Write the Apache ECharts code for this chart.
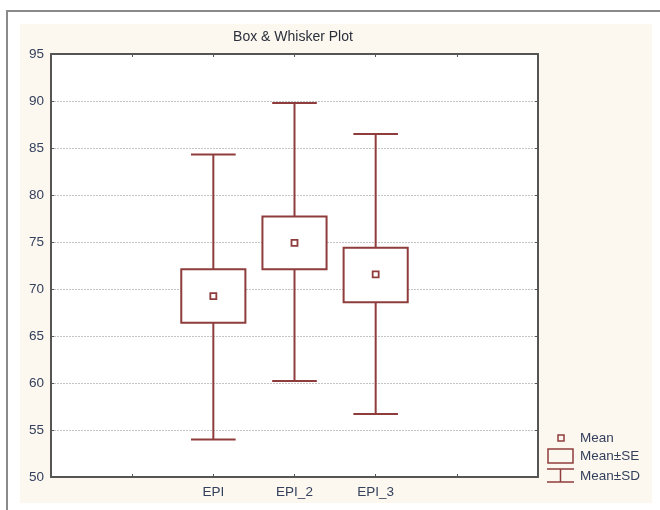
<!DOCTYPE html>
<html>
<head>
<meta charset="utf-8">
<script src="https://cdn.jsdelivr.net/npm/echarts@6/dist/echarts.min.js"></script>
<style>html,body{margin:0;padding:0;background:#fff}#c{width:660px;height:510px}</style>
</head>
<body>
<div id="c"></div>
<script>
const categories = ['EPI', 'EPI_2', 'EPI_3'];
const means  = [69.25, 74.9, 71.55];
const seLow  = [66.4, 72.1, 68.6];
const seHigh = [72.1, 77.7, 74.4];
const sdLow  = [54.0, 60.2, 56.7];
const sdHigh = [84.3, 89.8, 86.5];
const yTicks = [50, 55, 60, 65, 70, 75, 80, 85, 90, 95];

const axisSlots = ['', '', ...categories, '', ''];
const COLOR = '#8f3c3c';
const TXT = '#34405c';
const FONT = 'Liberation Sans, Arial';

const data = categories.map((c, i) => [c, means[i], seLow[i], seHigh[i], sdLow[i], sdHigh[i]]);

function renderItem(params, api) {
  const x = api.value(0);
  const m = api.coord([x, api.value(1)]);
  const sl = api.coord([x, api.value(2)]);
  const sh = api.coord([x, api.value(3)]);
  const dl = api.coord([x, api.value(4)]);
  const dh = api.coord([x, api.value(5)]);
  const band = api.size([1, 0])[0];
  const bw = band * 0.79, cw = band * 0.55, cx = m[0];
  const st = { stroke: COLOR, lineWidth: 2, fill: null };
  return {
    type: 'group',
    children: [
      { type: 'line', shape: { x1: cx, y1: dh[1], x2: cx, y2: sh[1] }, style: st },
      { type: 'line', shape: { x1: cx, y1: sl[1], x2: cx, y2: dl[1] }, style: st },
      { type: 'line', shape: { x1: cx - cw / 2, y1: dh[1], x2: cx + cw / 2, y2: dh[1] }, style: st },
      { type: 'line', shape: { x1: cx - cw / 2, y1: dl[1], x2: cx + cw / 2, y2: dl[1] }, style: st },
      { type: 'rect', shape: { x: cx - bw / 2, y: sh[1], width: bw, height: sl[1] - sh[1] }, style: { stroke: COLOR, lineWidth: 2, fill: '#fff' } },
      { type: 'rect', shape: { x: cx - 3, y: m[1] - 3, width: 6, height: 6 }, style: { stroke: COLOR, lineWidth: 1.8, fill: '#fff' } }
    ]
  };
}

const chart = echarts.init(document.getElementById('c'), null, { renderer: 'canvas' });
chart.setOption({
  backgroundColor: '#fff',
  animation: false,
  title: {
    text: 'Box & Whisker Plot', left: 288, top: 25, textAlign: 'center',
    textStyle: { fontFamily: FONT, fontSize: 14, fontWeight: 'normal', color: '#2a2f3a' }
  },
  graphic: [
    { type: 'rect', z: -10, shape: { x: 20, y: 24, width: 632, height: 479 }, style: { fill: '#fcf8f0' } },
    { type: 'polyline', z: -5, shape: { points: [[7, 510], [7, 11], [660, 11]] }, style: { stroke: '#8a8a8a', lineWidth: 2, fill: null } },
    { type: 'rect', shape: { x: 558, y: 435, width: 6, height: 6 }, style: { stroke: COLOR, lineWidth: 1.5, fill: '#fcf8f0' } },
    { type: 'text', x: 580, y: 438, style: { text: 'Mean', fill: TXT, font: '13.5px ' + FONT, verticalAlign: 'middle' } },
    { type: 'rect', shape: { x: 548, y: 449, width: 25, height: 14 }, style: { stroke: COLOR, lineWidth: 1.5, fill: '#fcf8f0' } },
    { type: 'text', x: 580, y: 456, style: { text: 'Mean±SE', fill: TXT, font: '13.5px ' + FONT, verticalAlign: 'middle' } },
    { type: 'line', shape: { x1: 547, y1: 469, x2: 574, y2: 469 }, style: { stroke: COLOR, lineWidth: 1.5 } },
    { type: 'line', shape: { x1: 560.5, y1: 469, x2: 560.5, y2: 482 }, style: { stroke: COLOR, lineWidth: 1.5 } },
    { type: 'line', shape: { x1: 547, y1: 482, x2: 574, y2: 482 }, style: { stroke: COLOR, lineWidth: 1.5 } },
    { type: 'text', x: 580, y: 476, style: { text: 'Mean±SD', fill: TXT, font: '13.5px ' + FONT, verticalAlign: 'middle' } }
  ],
  grid: { left: 51, top: 54, right: 122, bottom: 33, show: true, backgroundColor: '#fff', borderWidth: 0 },
  xAxis: [
    {
      type: 'category', data: axisSlots, boundaryGap: false, position: 'bottom',
      axisLine: { lineStyle: { color: '#555', width: 2 } },
      axisTick: { inside: true, length: 3, lineStyle: { color: '#555' } },
      axisLabel: { color: TXT, fontFamily: FONT, fontSize: 13.5, margin: 8, interval: 0 },
      splitLine: { show: false }
    },
    {
      type: 'category', data: axisSlots, boundaryGap: false, position: 'top',
      axisLine: { lineStyle: { color: '#555', width: 2 } },
      axisTick: { inside: true, length: 3, lineStyle: { color: '#555' } },
      axisLabel: { show: false }, splitLine: { show: false }
    }
  ],
  yAxis: [
    {
      type: 'value', min: yTicks[0], max: yTicks[yTicks.length - 1], interval: 5, position: 'left',
      axisLine: { show: true, lineStyle: { color: '#555', width: 2 } },
      axisTick: { show: true, inside: true, length: 3, lineStyle: { color: '#555' } },
      axisLabel: { color: TXT, fontFamily: FONT, fontSize: 13.5, margin: 7 },
      splitLine: { show: true, lineStyle: { color: '#c4c4c4', type: [2, 1], width: 1 } }
    },
    {
      type: 'value', min: yTicks[0], max: yTicks[yTicks.length - 1], interval: 5, position: 'right',
      axisLine: { show: true, lineStyle: { color: '#555', width: 2 } },
      axisTick: { show: true, inside: true, length: 3, lineStyle: { color: '#555' } },
      axisLabel: { show: false }, splitLine: { show: false }
    }
  ],
  series: [{
    type: 'custom', name: 'Box', renderItem: renderItem, data: data,
    encode: { x: 0, y: [1, 2, 3, 4, 5] }, xAxisIndex: 0, yAxisIndex: 0, clip: false
  }]
});
</script>
</body>
</html>
